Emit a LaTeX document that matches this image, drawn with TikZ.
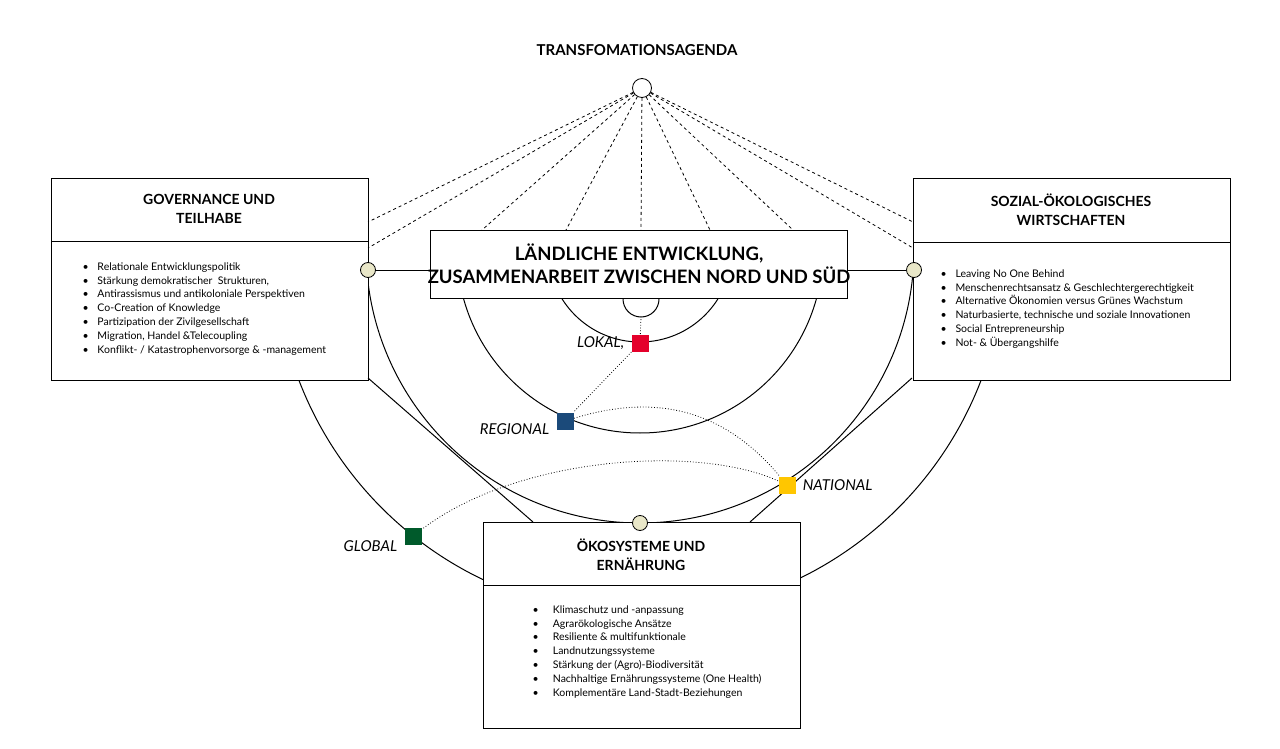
\documentclass[tikz,border=0pt]{standalone}
\usepackage{fontspec}
\setmainfont{Lato}
\usetikzlibrary{calc,positioning}

\tikzset{
  box/.style={draw, thick, fill=white, anchor=north west, inner sep=0pt},
  head/.style={font=\bfseries\fontsize{14}{19}\selectfont, align=center},
  items/.style={font=\fontsize{10.5}{13.8}\selectfont, align=left, anchor=north west, inner sep=0pt},
  hub/.style={circle, draw, thick, fill=gray!30!olive!20, minimum size=15pt, inner sep=0pt},
  level/.style={draw=none, minimum size=17pt, inner sep=0pt},
  tag/.style={font=\itshape\fontsize{15}{15}\selectfont},
  link/.style={dashed, thick},
  path/.style={dotted, thick},
}
\newcommand\bul{\makebox[15pt][l]{\textbullet}}

\begin{document}
\begin{tikzpicture}[x=1pt, y=-1pt, line width=1pt]
  \useasboundingbox (0,0) rectangle (1280,749);

  % Rings
  \begin{scope}
    \clip (0,299) rectangle (1280,749);
    \draw (640,250) circle[radius=92];
    \draw (640,250) circle[radius=183];
    \draw (641,299) circle[radius=18];
  \end{scope}
  \begin{scope}
    \clip (0,270) rectangle (1280,749);
    \draw (640,249) circle[radius=274];
  \end{scope}
  \begin{scope}
    \clip (0,380) rectangle (1280,749);
    \draw (640,250) circle[radius=365];
  \end{scope}

  % Boxes
  \node[box, minimum width=317, minimum height=202] (gov) at (51,178) {};
  \node[box, minimum width=317, minimum height=202] (soz) at (913,178) {};
  \node[box, minimum width=317, minimum height=206] (oko) at (483,522) {};
  \node[box, minimum width=417, minimum height=68] (mid) at (430,230) {};

  \draw[thick] (51,241) -- (368,241);
  \draw[thick] (913,242) -- (1230,242);
  \draw[thick] (483,585) -- (800,585);

  % Titles
  \node[font=\bfseries\fontsize{15}{20}\selectfont] (title) at (637,50) {TRANSFOMATIONSAGENDA};
  \node[head] at (209,209) {GOVERNANCE UND\\TEILHABE};
  \node[head] at (1071,210) {SOZIAL-ÖKOLOGISCHES\\WIRTSCHAFTEN};
  \node[head] at (641,555) {ÖKOSYSTEME UND\\ERNÄHRUNG};
  \node[font=\bfseries\fontsize{18.5}{23}\selectfont, align=center] at (639,264)
    {LÄNDLICHE ENTWICKLUNG,\\ZUSAMMENARBEIT ZWISCHEN NORD UND SÜD};

  % Lists
  \node[items] at (82,262) {\bul Relationale Entwicklungspolitik\\
    \bul Stärkung demokratischer\ \ Strukturen,\\
    \bul Antirassismus und antikoloniale Perspektiven\\
    \bul Co-Creation of Knowledge\\
    \bul Partizipation der Zivilgesellschaft\\
    \bul Migration, Handel \&Telecoupling\\
    \bul Konflikt- / Katastrophenvorsorge \& -management};
  \node[items] at (940,269) {\bul Leaving No One Behind\\
    \bul Menschenrechtsansatz \& Geschlechtergerechtigkeit\\
    \bul Alternative Ökonomien versus Grünes Wachstum\\
    \bul Naturbasierte, technische und soziale Innovationen\\
    \bul Social Entrepreneurship\\
    \bul Not- \& Übergangshilfe};
  \node[items] at (532,605) {\bul\ \ Klimaschutz und -anpassung\\
    \bul\ \ Agrarökologische Ansätze\\
    \bul\ \ Resiliente \& multifunktionale\\
    \bul\ \ Landnutzungssysteme\\
    \bul\ \ Stärkung der (Agro)-Biodiversität\\
    \bul\ \ Nachhaltige Ernährungssysteme (One Health)\\
    \bul\ \ Komplementäre Land-Stadt-Beziehungen};

  % Straight links
  \draw (368,378) -- (533,522);
  \draw (912,378) -- (750,522);

  % Hubs
  \node[hub] (hl) at (368,270) {};
  \node[hub] (hr) at (914,270) {};
  \node[hub] (hb) at (640,523) {};
  \node[circle, draw, thick, fill=white, minimum size=19pt, inner sep=0pt] (top) at (642,88) {};
  \draw (hl) -- (mid.west |- hl);
  \draw (hr) -- (mid.east |- hr);

  % Agenda links
  \foreach \px/\py in {368/222, 368/248, 482/230, 566/230, 641/230, 710/230, 793/230, 913/222, 913/248}
    \draw[link] (top) -- (\px,\py);

  % Levels
  \node[level, fill={rgb,255:red,228;green,0;blue,43}] (lok) at (640,343) {};
  \node[level, fill={rgb,255:red,27;green,74;blue,122}] (reg) at (565,421) {};
  \node[level, fill={rgb,255:red,255;green,198;blue,0}] (nat) at (787,485) {};
  \node[level, fill={rgb,255:red,0;green,90;blue,43}] (glo) at (413,536) {};
  \coordinate (core) at (641,317);

  \draw[path] (lok) -- (core);
  \draw[path] (lok) -- (reg);
  \draw[path] (reg) .. controls (650,395) and (720,405) .. (nat);
  \draw[path] (nat) .. controls (700,445) and (520,455) .. (glo);

  \node[tag, left=3pt of lok] {LOKAL,};
  \node[tag, left=3pt of reg, yshift=-8pt] {REGIONAL};
  \node[tag, right=3pt of nat] {NATIONAL};
  \node[tag, left=3pt of glo, yshift=-10pt] {GLOBAL};
\end{tikzpicture}
\end{document}
